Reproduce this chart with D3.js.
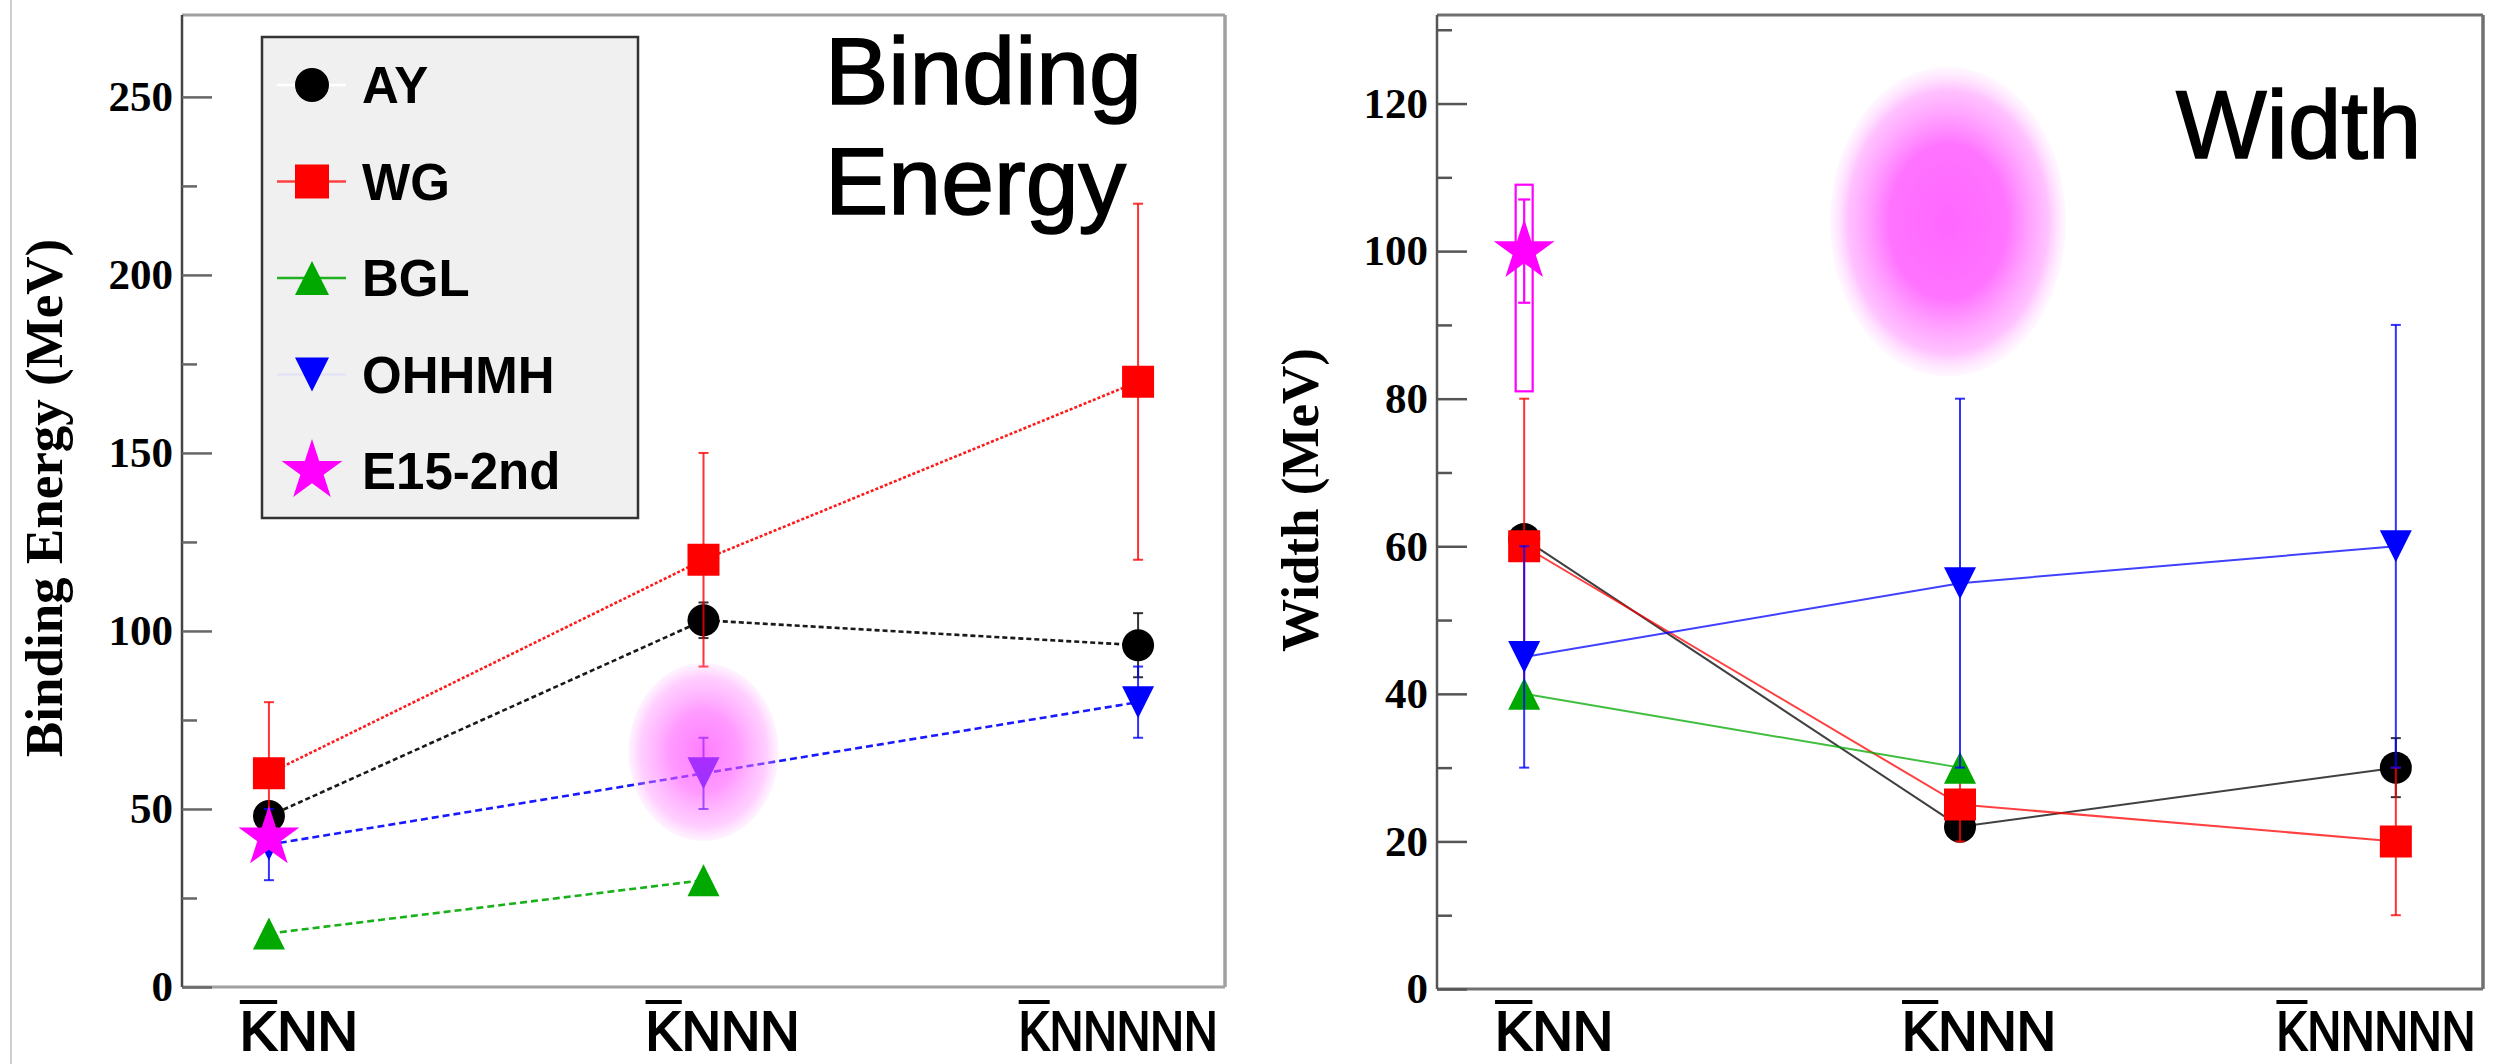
<!DOCTYPE html>
<html>
<head>
<meta charset="utf-8">
<script src="https://cdn.jsdelivr.net/npm/d3@7"></script>
<style>
  html, body { margin: 0; padding: 0; background: #ffffff; }
  svg { display: block; }
</style>
</head>
<body>
<svg id="chart" width="2494" height="1064"></svg>
<script>
// ---- data -------------------------------------------------------------
const categories = ["KNN", "KNNN", "KNNNNN"];

// binding energies (MeV)
const ayBinding = [48, 103, 96];
const ayBindingErr = [0, 5, 9];
const wgBinding = [60, 120, 170];
const wgBindingErr = [20, 30, 50];
const bglBinding = [15, 30];
const ohhmhBinding = [40, 60, 80];
const ohhmhBindingErr = [10, 10, 10];
const e15Binding = [42];

// widths (MeV)
const ayWidth = [61, 22, 30];
const ayWidthErr = [0, 0, 4];
const wgWidth = [60, 25, 20];
const wgWidthErr = [20, 5, 10];
const bglWidth = [40, 30];
const ohhmhWidth = [45, 55, 60];
const ohhmhWidthErr = [15, 25, 30];
const e15Width = [100];
const e15WidthStat = [7];
const e15WidthSyst = [[81, 109]];

// expected K̄NNN regions (centre and half-range, MeV)
const bindingRegion = { category: "KNNN", center: 66, half: 25 };
const widthRegion = { category: "KNNN", center: 104, half: 21 };

const bindingTicks = [0, 50, 100, 150, 200, 250];
const bindingMinorTicks = [25, 75, 125, 175, 225];
const widthTicks = [0, 20, 40, 60, 80, 100, 120];
const widthMinorTicks = [10, 30, 50, 70, 90, 110, 130];

const legendLabels = ["AY", "WG", "BGL", "OHHMH", "E15-2nd"];

// ---- drawing ----------------------------------------------------------
const svg = d3.select("#chart");
const defs = svg.append("defs");

const colors = { AY: "#000000", WG: "#ff0000", BGL: "#00a800", OHHMH: "#0000ff", E15: "#ff00ff" };
const markerOf = { AY: "circle", WG: "square", BGL: "up", OHHMH: "down", E15: "star" };

function markerPath(kind, s) {
  const h = s / 2;
  if (kind === "circle") return d3.symbol(d3.symbolCircle, Math.PI * h * h)();
  if (kind === "square") return d3.symbol(d3.symbolSquare, s * s)();
  if (kind === "up") return `M0,${-h}L${h},${h}L${-h},${h}Z`;
  if (kind === "down") return `M0,${h}L${h},${-h}L${-h},${-h}Z`;
  if (kind === "star") return d3.symbol(d3.symbolStar, (h * h) / 0.8908130915292852)();
}

function radial(id, stops) {
  const gr = defs.append("radialGradient").attr("id", id).attr("cx", "50%").attr("cy", "50%").attr("r", "50%");
  stops.forEach(([o, c, a]) => gr.append("stop").attr("offset", o).attr("stop-color", c).attr("stop-opacity", a));
}
radial("glowBinding", [[0, "#ff40ff", 0.68], [0.45, "#ff55ff", 0.6], [0.85, "#ff88ff", 0.4], [1, "#ffb3ff", 0.15]]);
radial("glowWidth", [[0, "#ff66ff", 1], [0.5, "#ff6cff", 0.95], [0.85, "#ff99ff", 0.6], [1, "#ffd0ff", 0.15]]);

// faint page border at the far left
svg.append("line").attr("x1", 11).attr("x2", 11).attr("y1", 0).attr("y2", 1064)
  .attr("stroke", "#cfcfcf").attr("stroke-width", 2);

function drawPanel(p) {
  const g = svg.append("g");
  const x = d3.scalePoint().domain(categories).range([p.left, p.right]).padding(0.2);
  const y = d3.scaleLinear().domain([0, p.ymax]).range([p.bottom, p.top]);

  // frame
  const frame = g.append("g").attr("fill", "none");
  frame.append("line").attr("x1", p.left).attr("x2", p.right).attr("y1", p.top).attr("y2", p.top)
    .attr("stroke", p.frameColor).attr("stroke-width", 3);
  frame.append("line").attr("x1", p.right).attr("x2", p.right).attr("y1", p.top).attr("y2", p.bottom)
    .attr("stroke", p.frameColor).attr("stroke-width", 3.5);
  frame.append("line").attr("x1", p.left).attr("x2", p.right).attr("y1", p.bottom).attr("y2", p.bottom)
    .attr("stroke", p.frameColor).attr("stroke-width", 3);
  frame.append("line").attr("x1", p.left).attr("x2", p.left).attr("y1", p.top).attr("y2", p.bottom)
    .attr("stroke", p.axisColor).attr("stroke-width", 2.5);

  // y axis, ticks pointing into the frame
  const ga = g.append("g").attr("transform", `translate(${p.left},0)`);
  ga.append("g").call(d3.axisLeft(y).tickValues(p.minorTicks).tickSizeInner(-15).tickSizeOuter(0).tickFormat(""));
  ga.append("g").call(d3.axisLeft(y).tickValues(p.ticks).tickSizeInner(-30).tickSizeOuter(0).tickPadding(9)
    .tickFormat(d3.format("d")));
  ga.selectAll(".domain").remove();
  ga.selectAll(".tick line").attr("stroke", p.tickColor).attr("stroke-width", 2.5);
  ga.selectAll(".tick text")
    .attr("font-family", "'Liberation Serif', 'Times New Roman', serif")
    .attr("font-weight", "bold").attr("font-size", 43).attr("fill", "#000");

  // y title
  g.append("text")
    .attr("transform", `translate(${p.titleX},${p.titleY}) rotate(-90)`)
    .attr("text-anchor", "middle")
    .attr("font-family", "'Liberation Serif', 'Times New Roman', serif")
    .attr("font-weight", "bold").attr("font-size", 53).attr("fill", "#000")
    .text(p.yTitle);

  // category labels with the anti-kaon bar over K
  const labelShift = [30, 19, -20];
  const labelSqueeze = [1, 0.97, 0.83];
  categories.forEach((c, i) => {
    const cx = x(c) + labelShift[i];
    const lg = g.append("g").attr("transform", `translate(${cx},1050) scale(${labelSqueeze[i]},1)`);
    const t = lg.append("text").attr("text-anchor", "middle")
      .attr("font-family", "'Liberation Sans', Arial, sans-serif")
      .attr("font-size", 56).attr("fill", "#000").attr("stroke", "#000").attr("stroke-width", 2)
      .text(c);
    const total = t.node().getComputedTextLength();
    const kw = t.node().getSubStringLength(0, 1);
    lg.append("line").attr("x1", -total / 2).attr("x2", -total / 2 + kw)
      .attr("y1", -48).attr("y2", -48).attr("stroke", "#000").attr("stroke-width", 4);
  });

  // connecting lines
  p.series.forEach(s => {
    const pts = s.values.map((v, i) => ({ c: categories[i], v }));
    g.append("path").datum(pts)
      .attr("d", d3.line().x(d => x(d.c)).y(d => y(d.v)))
      .attr("fill", "none").attr("stroke", colors[s.key])
      .attr("stroke-width", p.lineWidth).attr("stroke-opacity", p.lineOpacity)
      .attr("stroke-dasharray", p.dashed ? s.dash : null);
  });

  // error bars and markers
  p.series.forEach(s => {
    const col = colors[s.key];
    s.values.forEach((v, i) => {
      const e = s.err ? s.err[i] : 0;
      const cx = x(categories[i]);
      if (e > 0) {
        const eg = g.append("g").attr("stroke", col).attr("stroke-width", 2).attr("stroke-opacity", 0.8);
        eg.append("line").attr("x1", cx).attr("x2", cx).attr("y1", y(v - e)).attr("y2", y(v + e));
        eg.append("line").attr("x1", cx - 5).attr("x2", cx + 5).attr("y1", y(v - e)).attr("y2", y(v - e));
        eg.append("line").attr("x1", cx - 5).attr("x2", cx + 5).attr("y1", y(v + e)).attr("y2", y(v + e));
      }
      g.append("path").attr("d", markerPath(markerOf[s.key], 32))
        .attr("transform", `translate(${cx},${y(v)})`).attr("fill", col);
    });
  });

  // expected region glow
  const r = p.region;
  g.append("ellipse")
    .attr("cx", x(r.category) - p.regionNudge).attr("cy", y(r.center))
    .attr("rx", p.regionRx).attr("ry", (y(r.center - r.half) - y(r.center + r.half)) / 2)
    .attr("fill", `url(#${p.glow})`);

  // E15 measurement
  if (p.syst) {
    p.syst.forEach(([lo, hi], i) => {
      const cx = x(categories[i]);
      g.append("rect").attr("x", cx - 8.5).attr("y", y(hi)).attr("width", 17).attr("height", y(lo) - y(hi))
        .attr("fill", "none").attr("stroke", colors.E15).attr("stroke-width", 2.2);
    });
  }
  if (p.stat) {
    p.stat.forEach((e, i) => {
      const cx = x(categories[i]), v = p.e15[i];
      const eg = g.append("g").attr("stroke", colors.E15).attr("stroke-width", 2.2);
      eg.append("line").attr("x1", cx).attr("x2", cx).attr("y1", y(v - e)).attr("y2", y(v + e));
      eg.append("line").attr("x1", cx - 6).attr("x2", cx + 6).attr("y1", y(v - e)).attr("y2", y(v - e));
      eg.append("line").attr("x1", cx - 6).attr("x2", cx + 6).attr("y1", y(v + e)).attr("y2", y(v + e));
    });
  }
  p.e15.forEach((v, i) => {
    g.append("path").attr("d", markerPath("star", 64))
      .attr("transform", `translate(${x(categories[i])},${y(v)})`).attr("fill", colors.E15);
  });

  // corner title
  p.corner.forEach(([txt, tx, ty]) => {
    g.append("text").attr("x", tx).attr("y", ty)
      .attr("font-family", "'Liberation Sans', Arial, sans-serif")
      .attr("font-size", p.cornerSize).attr("fill", "#000")
      .attr("stroke", "#000").attr("stroke-width", 1.6)
      .text(txt);
  });

  return g;
}

drawPanel({
  left: 182, right: 1225, top: 15, bottom: 987, ymax: 273,
  ticks: bindingTicks, minorTicks: bindingMinorTicks,
  frameColor: "#a0a0a0", axisColor: "#444", tickColor: "#666",
  yTitle: "Binding Energy (MeV)", titleX: 62, titleY: 498,
  lineWidth: 2.6, lineOpacity: 0.9, dashed: true,
  series: [
    { key: "AY", values: ayBinding, err: ayBindingErr, dash: "5,3" },
    { key: "WG", values: wgBinding, err: wgBindingErr, dash: "3,2" },
    { key: "BGL", values: bglBinding, dash: "7,4" },
    { key: "OHHMH", values: ohhmhBinding, err: ohhmhBindingErr, dash: "7,4" }
  ],
  region: bindingRegion, regionRx: 75, regionNudge: 0, glow: "glowBinding",
  e15: e15Binding,
  corner: [["Binding", 825, 104], ["Energy", 825, 214]], cornerSize: 95
});

drawPanel({
  left: 1437, right: 2483, top: 15, bottom: 989, ymax: 132,
  ticks: widthTicks, minorTicks: widthMinorTicks,
  frameColor: "#707070", axisColor: "#555", tickColor: "#555",
  yTitle: "Width (MeV)", titleX: 1318, titleY: 500,
  lineWidth: 2, lineOpacity: 0.75, dashed: false,
  series: [
    { key: "AY", values: ayWidth, err: ayWidthErr },
    { key: "WG", values: wgWidth, err: wgWidthErr },
    { key: "BGL", values: bglWidth },
    { key: "OHHMH", values: ohhmhWidth, err: ohhmhWidthErr }
  ],
  region: widthRegion, regionRx: 118, regionNudge: 12, glow: "glowWidth",
  syst: e15WidthSyst, stat: e15WidthStat, e15: e15Width,
  corner: [["Width", 2176, 158]], cornerSize: 96
});

// legend
const legend = svg.append("g");
legend.append("rect").attr("x", 262).attr("y", 37).attr("width", 376).attr("height", 481)
  .attr("fill", "#f0f0f0").attr("stroke", "#333").attr("stroke-width", 2.5);
const legendKeys = ["AY", "WG", "BGL", "OHHMH", "E15"];
const legendLine = { AY: "#ffffff", WG: "#ff4040", BGL: "#20b020", OHHMH: "#e4e4f8", E15: null };
legendKeys.forEach((k, i) => {
  const cy = 85 + i * 96.5;
  if (legendLine[k]) {
    legend.append("line").attr("x1", 277).attr("x2", 346).attr("y1", cy).attr("y2", cy)
      .attr("stroke", legendLine[k]).attr("stroke-width", 2.5);
  }
  legend.append("path").attr("d", markerPath(markerOf[k], k === "E15" ? 64 : 34))
    .attr("transform", `translate(312,${cy})`).attr("fill", colors[k]);
  legend.append("text").attr("x", 362).attr("y", cy + 18)
    .attr("font-family", "'Liberation Sans', Arial, sans-serif")
    .attr("font-weight", "bold").attr("font-size", 51).attr("fill", "#000")
    .text(legendLabels[i]);
});
</script>
</body>
</html>
